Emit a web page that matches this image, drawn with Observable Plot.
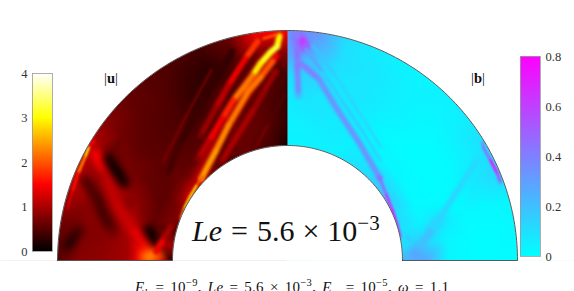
<!DOCTYPE html>
<html><head><meta charset="utf-8">
<script src="https://cdn.jsdelivr.net/npm/d3@7"></script>
<script src="https://cdn.jsdelivr.net/npm/@observablehq/plot@0.6"></script>
<style>
html,body{margin:0;padding:0;background:#fff;width:574px;height:291px;overflow:hidden}
#stage{position:relative;width:574px;height:291px;overflow:hidden;font-family:"Liberation Serif",serif;color:#111}
#stage svg{position:absolute;background:transparent}
.lbl{position:absolute;white-space:nowrap;line-height:1}
.blur3{filter:blur(3.5px)}
.blur2{filter:blur(1.8px)}
.blur1{filter:blur(.8px)}
sup,sub{line-height:0;font-size:70%}
i{font-style:italic}
</style></head><body><div id="stage"></div>
<script>
// Field samples: colatitude (deg from the top) by radius (percent of the outer radius)
const colatitudes = [0,7.5,15,22.5,30,37.5,45,52.5,60,67.5,75,82.5,90];
const radii = [50,60,70,80,90,100];
const uField = [
 [.15,.3,.3,.4,.8,1.5],
 [.4,.5,.5,.5,.6,1.5],
 [.5,.6,.5,.5,.45,.6],
 [.6,.6,.6,.45,.25,.4],
 [.5,.5,.45,.3,.35,.45],
 [.6,.55,.45,.45,.5,.5],
 [.8,.55,.5,.5,.55,.6],
 [1.0,.6,.55,.55,.65,.8],
 [1.0,.55,.6,.7,.6,1.1],
 [.8,.55,.8,.95,.85,1.2],
 [.5,.6,1.0,.8,.8,.9],
 [1.0,.9,.95,.8,.75,.6],
 [.3,1.8,.95,.85,.8,.5]
];
const bField = [
 [.03,.04,.06,.1,.28,.33],
 [.03,.05,.08,.13,.23,.33],
 [.04,.06,.08,.08,.1,.1],
 [.04,.06,.06,.08,.08,.06],
 [.08,.04,.05,.06,.06,.04],
 [.1,.04,.02,.04,.04,.03],
 [.13,.03,.01,.02,.03,.04],
 [.18,.03,.01,.01,.04,.06],
 [.18,.02,.01,.01,.05,.1],
 [.13,.02,.01,.03,.08,.13],
 [.1,.04,.06,.02,.02,.03],
 [.1,.12,.03,.01,.01,.02],
 [.23,.28,.03,.01,.01,.01]
];
// Streaks of the field: [x, y, value] with x and y in percent of the outer radius
const uBroad = [
 [[-83.5,46.5,1.5],[-79.1,37.8,1.15],[-73.5,23,1.2],[-66,11.7,1.4],[-61.7,5.7,1.6]],
 [[-62,1.5,2.1],[-58.7,2,2.5],[-56,2,1.9]],
 [[-88,35,.45],[-82.6,27,.4],[-80,20,.4],[-76,13,.6]],
 [[-95.6,6.5,.25],[-91,13,.4]],
 [[-9,88,1.2],[-20,70,1.0],[-32,50,1.1],[-42,28,1.3]],
 [[-78,44,.1],[-74.5,39,.05],[-71,34,.15]],
 [[-60,13,.05],[-58,9,.05]]
];
const uWide = [
 [[-3.5,97.5,3.0],[-4.5,93,3.2],[-7.4,90.5,3.1],[-11.7,85.7,2.9],[-15.2,80.4,2.2],[-23.5,69.6,1.7],[-28.3,61.7,1.4],[-34.3,51.7,1.1],[-38.7,44.3,.8]],
 [[-4.8,89.1,1.4],[-6.5,86.5,2.0],[-11.7,79.6,2.2],[-17,73.5,2.2],[-25.7,58.7,2.3],[-31.3,47.4,2.4],[-35.7,39.1,2.4],[-37.5,35.5,2.4]],
 [[-13,95.2,1.8],[-18.3,87.8,1.4],[-25.7,76.1,1.1],[-31.3,66.1,.9],[-37.8,54.3,.7]],
 [[-5.2,82.2,.9],[-15.2,64.8,1.0],[-22.6,53,1.0],[-28.3,43.5,.9]],
 [[-57,4,1.4],[-53.5,10,1.0],[-50.5,15,.9]],
 [[-24,91,.3],[-36,70,.35],[-47,50,.4],[-52,38,.45]]
];
const uThin = [
 [[-10.4,96.5,2.0],[-5.2,98,2.2]],
 [[-1.3,71.7,.5],[-8.7,58.7,.7],[-13.9,49,.6]],
 [[-37,36.5,2.0],[-39.7,32.3,2.8],[-42.5,27.5,2.8],[-45,22.5,2.2],[-46.5,18,1.5]],
 [[-84,52,1.5],[-86.5,49,2.9],[-88,45,2.3],[-91,38,1.6],[-93.5,30,1.2],[-95.8,22,.9]],
 [[-33,83,.65],[-44,63,.7],[-54,43,.7]]
];
const bBroad = [
 [[5,97,.55],[7,93,.6]],
 [[55.6,2.6,.3],[57.8,6.5,.2]],
 [[60,10,.14],[66,18,.13]]
];
const bWide = [
 [[3.9,97.8,.4],[6.4,95.8,.62],[7.8,93.5,.5]],
 [[4.3,92.2,.45],[4.3,82.2,.38],[4.8,71.7,.22]],
 [[4.8,86.5,.4],[13.5,79.1,.34],[22.2,64.8,.34],[30.9,51.7,.34],[40,36,.42]],
 [[57.8,6.5,.2],[63.5,14.3,.13],[73.9,30.4,.12],[82.6,43.5,.1]]
];
const bThin = [
 [[7.8,92.2,.3],[15.2,82.2,.18],[23.9,69.1,.18],[32.6,56.1,.16],[40.4,43.5,.14]],
 [[10.9,93.5,.18],[20.9,80.4,.14],[30.9,64.8,.13],[40.4,49.6,.11]],
 [[40,36,.48],[43,28.5,.68],[45.5,22,.8],[47.6,15.5,.75],[49,10,.4]],
 [[84.8,51.3,.4],[85.2,49.1,.5],[88.3,43.5,.8],[91.3,37.8,.6],[92.6,33.9,.35]],
 [[54.8,7.4,.17],[52,10,.18]]
];
const uTicks = [0,1,2,3,4];
const bTicks = [0,.2,.4,.6,.8];
const hotStops = [0,1.5,3,4];
const hotColors = ["#000000","#ff0000","#ffff00","#ffffff"];
const coolStops = [0,.8];
const coolColors = ["#00ffff","#ff00ff"];

const stage = document.getElementById("stage");
const pxPerUnit = 2.3, centerX = 287, baseY = 260, W = 574, H = 291;
const rad = d => d * Math.PI / 180;
function place(svg, left, top){ svg.style.left = left + "px"; svg.style.top = top + "px"; stage.append(svg); }
const flatten = rays => rays.flatMap((ray, i) => ray.map(([x,y,v]) => ({ray:i, x, y, v})));
const arc = (side, r) => d3.range(0, 90.5, 1).map(a => ({x: side*r*Math.sin(rad(a)), y: r*Math.cos(rad(a))}));

function panel(side, field, broad, wide, thin, stops, colors){
  const samples = [];
  colatitudes.forEach((a, i) => radii.forEach((r, j) => samples.push({
    x: side*r*Math.sin(rad(a)), y: r*Math.cos(rad(a)), v: field[i][j]
  })));
  const xmax = centerX/pxPerUnit;
  const top = (H-baseY)/pxPerUnit;
  const ceil = baseY/pxPerUnit;
  const far = side*(xmax+5), back = -side*3;
  const outerMask = [...arc(side,100), {x:far,y:0}, {x:far,y:ceil+5}, {x:back,y:ceil+5}, {x:back,y:100}];
  const innerMask = [...arc(side,50), {x:back,y:0}, {x:back,y:50}];
  const foot = [{x:back,y:0},{x:far,y:0},{x:far,y:-top-5},{x:back,y:-top-5}];
  const edge = {x:"x", y:"y", stroke:"#333", strokeWidth:.8};
  const extra = side<0 ? 1 : 0; // the left panel runs one pixel under the right one, so no seam shows
  return Plot.plot({
    width: centerX + extra, height: H, margin: 0,
    x: {domain: side<0 ? [-xmax, extra/pxPerUnit] : [0,xmax], axis: null},
    y: {domain: [-top, ceil], axis: null},
    color: {type:"linear", domain: stops, range: colors, interpolate:"rgb"},
    marks: [
      Plot.raster(samples, {x:"x", y:"y", fill:"v", interpolate:"barycentric"}),
      Plot.line(flatten(broad), {x:"x", y:"y", z:"ray", stroke:"v", strokeWidth:11, className:"blur3", strokeLinecap:"round"}),
      Plot.line(flatten(wide), {x:"x", y:"y", z:"ray", stroke:"v", strokeWidth:6, className:"blur2", strokeLinecap:"round"}),
      Plot.line(flatten(thin), {x:"x", y:"y", z:"ray", stroke:"v", strokeWidth:2.6, className:"blur1", strokeLinecap:"round"}),
      Plot.line(outerMask, {x:"x", y:"y", fill:"white", stroke:"white", strokeWidth:.5}),
      Plot.line(innerMask, {x:"x", y:"y", fill:"white", stroke:"white", strokeWidth:.5}),
      Plot.line(foot, {x:"x", y:"y", fill:"white", stroke:"white", strokeWidth:.5}),
      Plot.line(arc(side,100), edge),
      Plot.line(arc(side,50), edge),
      Plot.ruleY([0], {x1: side*50, x2: side*100, stroke:"#333", strokeWidth:.8})
    ]
  });
}
place(panel(-1, uField, uBroad, uWide, uThin, hotStops, hotColors), 0, 0);
place(panel(1, bField, bBroad, bWide, bThin, coolStops, coolColors), centerX, 0);

function colorbar(stops, colors, ticks, anchor, fmt, w, h, ml, mr){
  const lo = stops[0], hi = stops[stops.length-1];
  const step = (hi-lo)/(h-20);
  return Plot.plot({
    width: w, height: h, marginTop: 10, marginBottom: 10, marginLeft: ml, marginRight: mr,
    style: {fontFamily:"Liberation Serif", fontSize:"12.5px", overflow:"visible"},
    x: {domain:[0,1], axis:null},
    y: {domain:[lo,hi], axis:null},
    color: {type:"linear", domain: stops, range: colors, interpolate:"rgb"},
    marks: [
      Plot.rect(d3.range(lo,hi,step), {x1:0, x2:1, y1:d=>d, y2:d=>d+step*2, fill:d=>d+step/2, clip:true}),
      Plot.axisY({anchor, ticks, tickFormat:fmt, tickSize:0, tickPadding:5, fontSize:12.5, color:"#333"}),
      Plot.frame({stroke:"#999", strokeWidth:.8})
    ]
  });
}
place(colorbar(hotStops, hotColors, uTicks, "left", d3.format("d"), 52, 198, 32, 0), 0, 63);
place(colorbar(coolStops, coolColors, bTicks, "right", d => d === 0 ? "0" : d.toFixed(1), 54, 220, 0, 34), 520, 46);

function label(html, left, baseline, size, extraStyle){
  const d = document.createElement("div");
  d.className = "lbl"; d.innerHTML = html;
  d.style.left = left+"px"; d.style.top = (baseline - size*0.85)+"px"; d.style.fontSize = size+"px";
  if (extraStyle) d.style.cssText += extraStyle;
  stage.append(d);
}
label("|<b>u</b>|", 104, 83, 14.5);
label("|<b>b</b>|", 471, 83, 14.5);
label("<i>Le</i><span style='margin:0 9px'>=</span>5.6<span style='margin:0 8px'>×</span>10<sup>−3</sup>", 192, 241, 30);
label("<i>E<sub>k</sub></i> = 10<sup>−9</sup>, <i>Le</i> = 5.6 × 10<sup>−3</sup>, <i>E<sub>m</sub></i> = 10<sup>−5</sup>, <i>ω</i> = 1.1", 135, 293, 15, "word-spacing:2px;letter-spacing:.3px;");
</script></body></html>
